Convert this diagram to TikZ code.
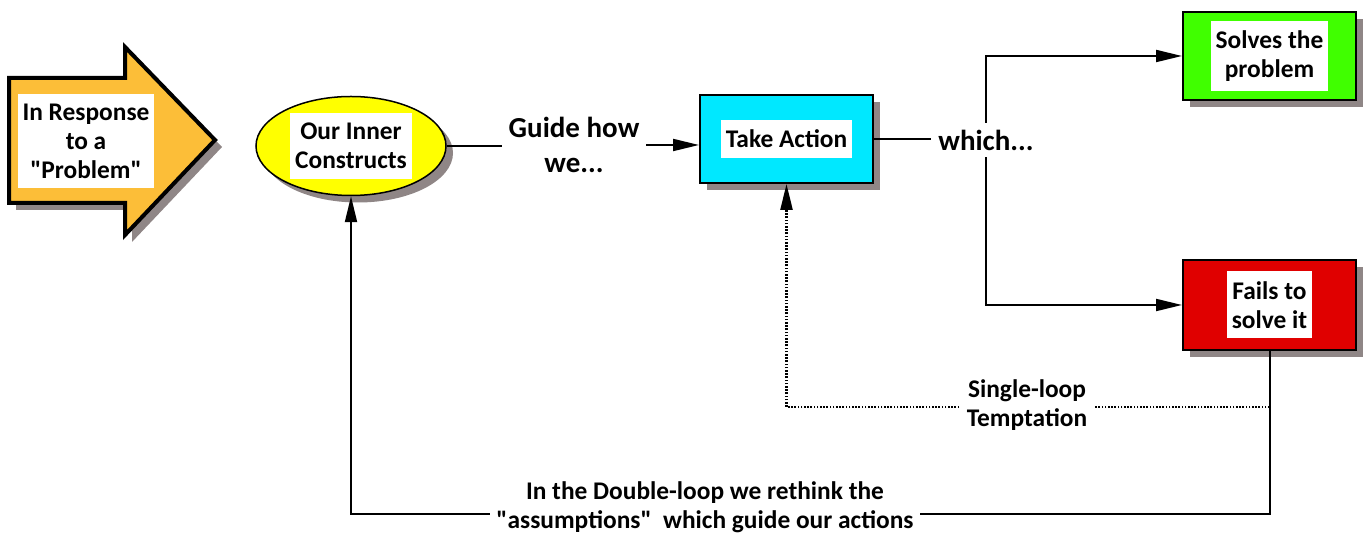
\documentclass[tikz,border=0pt]{standalone}
\usepackage{fontspec}
\setmainfont{Carlito}[Ligatures=TeXOff]
\usetikzlibrary{arrows.meta,shapes.geometric,shadows}

\definecolor{problemorange}{HTML}{FCBE38}
\definecolor{inneryellow}{HTML}{FFFF00}
\definecolor{actioncyan}{HTML}{00E8FF}
\definecolor{solvedgreen}{HTML}{40FF00}
\definecolor{failedred}{HTML}{E00000}
\definecolor{shadowgray}{HTML}{8F8686}

\begin{document}
\begin{tikzpicture}[
  x=0.5pt,y=-0.5pt,
  every node/.style={align=center,font=\fontsize{12.7}{14.5}\selectfont\bfseries},
  bigtext/.style={font=\fontsize{14.5}{17.5}\selectfont\bfseries},
  castshadow/.style={drop shadow={shadow xshift=3.5pt,shadow yshift=-3.5pt,fill=shadowgray,opacity=1}},
  box/.style={draw=black,line width=1pt,minimum width=86.5pt,minimum height=44pt,castshadow},
  whitetag/.style={fill=white,inner xsep=2.5pt,inner ysep=5pt},
  connector/.style={line width=1pt},
  link/.style={connector,-{Triangle[length=13pt,width=6pt]}},
  dottedlink/.style={link,line width=1.2pt,dash pattern=on 0.8pt off 0.8pt}
]
  \useasboundingbox (0,0) rectangle (1366,533);

  \draw[fill=problemorange,line width=2pt,castshadow]
    (9,78) -- (125,78) -- (125,47) -- (215,140) -- (125,235) -- (125,203) -- (9,203) -- cycle;
  \node[whitetag] (problem) at (86,141) {In Response\\to a\\"Problem"};

  \node[ellipse,draw,fill=inneryellow,line width=0.75pt,minimum width=95pt,minimum height=49.5pt,castshadow] (inner) at (351,146) {};
  \node[whitetag] (innertxt) at (inner) {Our Inner\\Constructs};

  \node[bigtext] (guide) at (574,145) {Guide how\\we...};

  \node[box,fill=actioncyan] (action) at (786.5,139) {};
  \node[whitetag] (actiontxt) at (action) {Take Action};

  \node[bigtext] (which) at (986,140) {which...};

  \node[box,fill=solvedgreen] (solves) at (1269.5,56) {};
  \node[whitetag] (solvestxt) at (solves) {Solves the\\problem};

  \node[box,fill=failedred,minimum height=45pt] (fails) at (1269.5,305) {};
  \node[whitetag] (failstxt) at (fails) {Fails to\\solve it};

  \coordinate (singleturn) at (1269.5,407);
  \coordinate (doubleturn) at (1269.5,514);

  \draw[connector] (inner.east) -- (inner.east -| guide.west);
  \draw[link] (guide.east) -- (guide.east -| action.west);
  \draw[connector] (action.east) -- (action.east -| which.west);
  \draw[link] (which.north) |- (solves.west);
  \draw[link] (which.south) |- (fails.west);

  \draw[dottedlink] (singleturn) -| (action.south);
  \draw[link] (fails.south) -- (doubleturn) -| (inner.south);

  \node[fill=white] (temptation) at (1027,405) {Single-loop\\Temptation};
  \node[fill=white] (rethink) at (705,507) {In the Double-loop we rethink the\\"assumptions"\ \ which guide our actions};
\end{tikzpicture}
\end{document}
